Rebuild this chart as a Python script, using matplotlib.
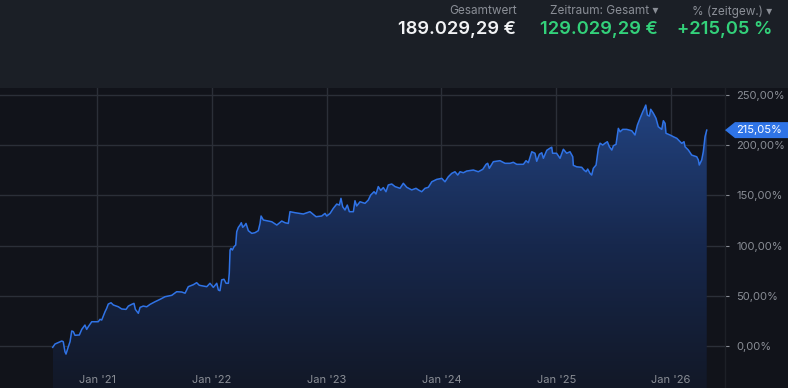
import numpy as np
import matplotlib
matplotlib.use("Agg")
from matplotlib import pyplot as plt
from matplotlib.patches import Polygon

plt.rcParams['font.family'] = ['Inter', 'DejaVu Sans']

# portfolio performance, time-weighted return in % (time as decimal year)
years = [
    2020.614, 2020.634, 2020.693, 2020.706, 2020.721, 2020.730, 2020.750, 2020.765, 2020.780, 2020.794,
    2020.808, 2020.846, 2020.867, 2020.895, 2020.910, 2020.924, 2020.954, 2020.983, 2021.011, 2021.026,
    2021.041, 2021.070, 2021.084, 2021.098, 2021.122, 2021.142, 2021.186, 2021.215, 2021.253, 2021.273,
    2021.302, 2021.322, 2021.334, 2021.360, 2021.375, 2021.403, 2021.433, 2021.462, 2021.505, 2021.549,
    2021.592, 2021.651, 2021.694, 2021.738, 2021.767, 2021.795, 2021.839, 2021.868, 2021.891, 2021.956,
    2021.984, 2022.013, 2022.043, 2022.057, 2022.071, 2022.086, 2022.106, 2022.124, 2022.144, 2022.152,
    2022.159, 2022.167, 2022.179, 2022.193, 2022.208, 2022.217, 2022.231, 2022.246, 2022.257, 2022.269,
    2022.289, 2022.298, 2022.318, 2022.348, 2022.376, 2022.405, 2022.420, 2022.429, 2022.449, 2022.492,
    2022.522, 2022.566, 2022.609, 2022.638, 2022.666, 2022.681, 2022.725, 2022.797, 2022.855, 2022.908,
    2022.957, 2022.986, 2023.001, 2023.030, 2023.058, 2023.088, 2023.111, 2023.125, 2023.140, 2023.160,
    2023.180, 2023.198, 2023.233, 2023.247, 2023.262, 2023.291, 2023.334, 2023.363, 2023.384, 2023.413,
    2023.430, 2023.450, 2023.471, 2023.494, 2023.517, 2023.537, 2023.567, 2023.596, 2023.639, 2023.668,
    2023.698, 2023.741, 2023.779, 2023.799, 2023.828, 2023.857, 2023.886, 2023.916, 2023.959, 2024.003,
    2024.031, 2024.060, 2024.090, 2024.118, 2024.142, 2024.162, 2024.191, 2024.220, 2024.278, 2024.321,
    2024.360, 2024.389, 2024.403, 2024.417, 2024.452, 2024.510, 2024.554, 2024.598, 2024.626, 2024.656,
    2024.714, 2024.737, 2024.757, 2024.787, 2024.815, 2024.830, 2024.853, 2024.874, 2024.888, 2024.918,
    2024.952, 2024.961, 2024.968, 2025.003, 2025.033, 2025.062, 2025.091, 2025.120, 2025.144, 2025.149,
    2025.178, 2025.222, 2025.242, 2025.260, 2025.274, 2025.294, 2025.309, 2025.323, 2025.347, 2025.367,
    2025.382, 2025.405, 2025.425, 2025.445, 2025.463, 2025.484, 2025.498, 2025.521, 2025.541, 2025.556,
    2025.579, 2025.614, 2025.658, 2025.686, 2025.707, 2025.730, 2025.754, 2025.768, 2025.780, 2025.794,
    2025.811, 2025.823, 2025.846, 2025.869, 2025.889, 2025.919, 2025.933, 2025.948, 2025.956, 2025.991,
    2026.020, 2026.050, 2026.093, 2026.113, 2026.122, 2026.151, 2026.180, 2026.224, 2026.238, 2026.246,
    2026.267, 2026.281, 2026.296, 2026.311,
]
perf = [
    -1.3, 2.0, 5.0, 4.3, -5.7, -8.0, -0.7, 4.3, 15.0, 14.3,
    10.7, 11.0, 16.6, 20.9, 16.6, 19.2, 24.2, 24.2, 24.2, 26.6,
    25.9, 34.2, 37.5, 41.8, 43.1, 40.9, 39.1, 36.9, 36.5, 39.8,
    41.5, 42.5, 36.5, 32.6, 38.5, 39.8, 39.1, 41.5, 44.1, 46.5,
    49.1, 50.5, 54.1, 53.8, 52.6, 59.1, 61.1, 63.1, 60.5, 59.1,
    62.5, 58.4, 62.5, 55.8, 55.1, 65.9, 66.5, 62.5, 62.5, 72.5,
    95.6, 97.3, 95.6, 98.9, 100.6, 113.9, 118.2, 120.5, 122.8, 118.2,
    120.5, 122.1, 114.9, 112.2, 112.9, 114.9, 122.1, 129.5, 125.5, 124.5,
    123.8, 120.5, 124.5, 122.8, 122.1, 133.8, 132.8, 131.5, 133.8, 128.8,
    129.5, 132.1, 129.5, 132.1, 137.1, 141.4, 140.4, 147.1, 138.7, 135.5,
    140.4, 133.8, 133.8, 144.7, 139.5, 143.7, 142.1, 145.4, 150.4, 153.7,
    151.4, 158.8, 155.1, 157.8, 153.7, 160.4, 161.4, 158.8, 157.1, 162.1,
    158.1, 155.5, 157.1, 155.5, 153.7, 157.1, 158.1, 163.6, 166.0, 167.0,
    163.6, 168.6, 172.0, 173.6, 170.3, 173.6, 172.6, 174.3, 175.3, 173.6,
    176.0, 181.0, 182.0, 177.0, 183.6, 184.6, 182.0, 182.0, 183.0, 181.0,
    181.0, 184.6, 182.6, 193.5, 192.0, 184.0, 191.0, 192.5, 187.0, 195.0,
    197.5, 198.0, 192.0, 192.0, 187.0, 196.0, 192.0, 193.5, 188.5, 180.0,
    178.5, 178.0, 175.3, 173.6, 176.3, 172.0, 170.3, 177.0, 180.3, 197.0,
    202.0, 200.2, 202.0, 203.5, 198.5, 195.2, 199.5, 200.9, 216.8, 213.4,
    215.8, 215.8, 214.4, 210.2, 220.1, 226.8, 233.4, 236.8, 240.0, 230.0,
    229.0, 235.8, 231.8, 226.8, 218.4, 215.8, 224.4, 221.8, 211.9, 210.2,
    208.5, 206.9, 201.9, 203.5, 198.5, 195.2, 190.2, 188.5, 185.3, 180.3,
    185.3, 193.5, 208.5, 215.05,
]

year_ticks = [2021, 2022, 2023, 2024, 2025, 2026]
year_labels = ["Jan '21", "Jan '22", "Jan '23", "Jan '24", "Jan '25", "Jan '26"]
pct_ticks = [0, 50, 100, 150, 200, 250]
pct_labels = ["0,00%", "50,00%", "100,00%", "150,00%", "200,00%", "250,00%"]

header_titles = ["Gesamtwert", "Zeitraum: Gesamt \u25BE", "% (zeitgew.) \u25BE"]
header_values = ["189.029,29 €", "129.029,29 €", "+215,05 %"]
last_label = "215,05%"

BG = '#11131a'
HEADER = '#1b1f26'
GRID = '#2b2f38'
LINE = '#3073e6'
MUTED = '#8a8e96'
GREEN = '#33d17a'

W, H = 788, 388
fig = plt.figure(figsize=(W / 100, H / 100), dpi=100, facecolor=BG)

# header band
fig.patches.append(plt.Rectangle((0, 1 - 88 / H), 1, 88 / H, transform=fig.transFigure,
                                 facecolor=HEADER, edgecolor='none', zorder=0))

ax = fig.add_axes([0, 0, 725 / W, 300 / H])
ax.set_facecolor(BG)

for y in pct_ticks:
    ax.axhline(y, color=GRID, lw=1.0, zorder=1)
for x in year_ticks:
    ax.axvline(x, color=GRID, lw=1.0, zorder=1)

x = np.array(years)
y = np.array(perf)
ymin = -41.8
poly = ax.fill_between(x, y, ymin, color='none', zorder=2)
grad = np.linspace(0, 1, 256).reshape(-1, 1)
cmap = matplotlib.colors.LinearSegmentedColormap.from_list('f', ['#121827', '#17284d', '#224381'])
im = ax.imshow(grad, cmap=cmap, aspect='auto', origin='lower',
               extent=[x[0], x[-1], ymin, 245], zorder=2)
im.set_clip_path(poly.get_paths()[0], transform=ax.transData)
ax.plot(x, y, color=LINE, lw=1.1, zorder=3, solid_joinstyle='round')
ax.set_xlim(2020.155, 2026.47)
ax.set_ylim(ymin, 257)

for s in ['top', 'left', 'bottom']:
    ax.spines[s].set_visible(False)
ax.spines['right'].set_color('#1d2027')
ax.spines['right'].set_linewidth(1)

ax.set_xticks([])
ax.yaxis.tick_right()
ax.set_yticks(pct_ticks)
ax.set_yticklabels(pct_labels)
ax.tick_params(axis='y', direction='out', length=3, width=0.8, color=MUTED, pad=5,
               labelsize=8, labelcolor=MUTED)

for xt, lab in zip(year_ticks, year_labels):
    ax.text(xt, 0.027, lab, transform=ax.get_xaxis_transform(), ha='center', va='center',
            fontsize=8, color=MUTED, zorder=4)

# last value marker on the right axis
v = perf[-1]
t = ax.get_yaxis_transform()
d = 8 / 1.004
shape = [(1.0, v), (1 + 10 / 725, v + d), (W / 725, v + d), (W / 725, v - d), (1 + 10 / 725, v - d)]
ax.add_patch(Polygon(shape, closed=True, transform=t, clip_on=False, facecolor='#2f74e6',
                     edgecolor='none', zorder=5))
ax.text(736 / 725, v, last_label, transform=t, ha='left', va='center', fontsize=8,
        color='white', zorder=6, clip_on=False)

# header texts
rights = [516.5, 658, 772]
for r, title, val, c in zip(rights, header_titles, header_values, ['#f2f3f5', GREEN, GREEN]):
    fig.text(r / W, 1 - 11.5 / H, title, ha='right', va='center', fontsize=8.5, color=MUTED)
    fig.text(r / W, 1 - 30 / H, val, ha='right', va='center', fontsize=13.2, color=c,
             fontweight='semibold')

fig.savefig('out.png', dpi=100, facecolor=BG)
